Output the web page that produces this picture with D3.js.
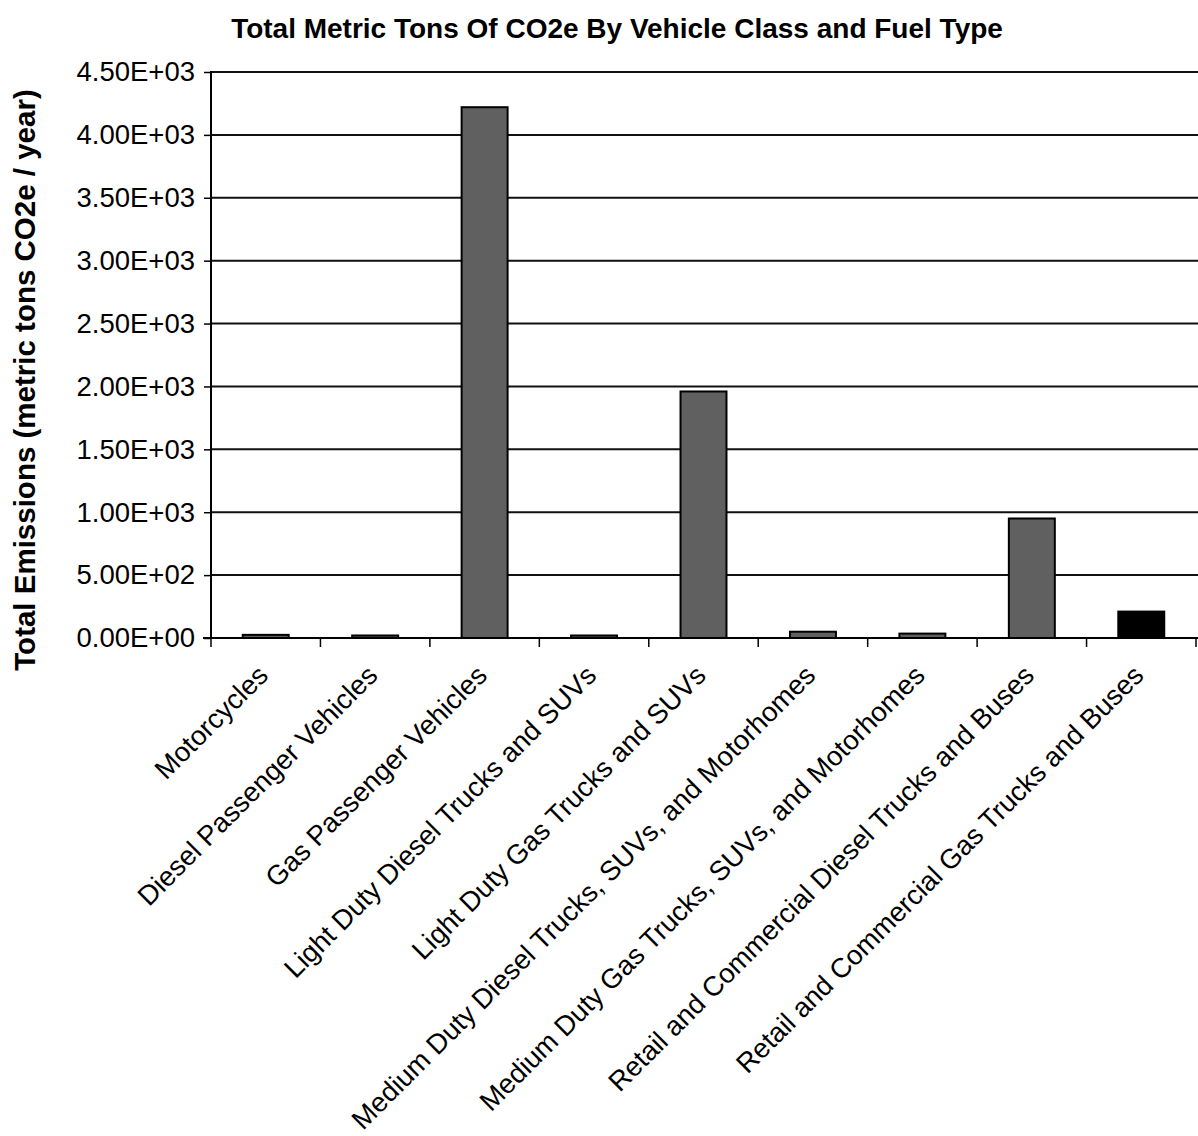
<!DOCTYPE html>
<html>
<head>
<meta charset="utf-8">
<script src="https://cdn.jsdelivr.net/npm/d3@7"></script>
<style>
  html, body { margin: 0; padding: 0; background: #fff; }
  svg { display: block; }
  text { font-family: "Liberation Sans", Arial, sans-serif; fill: #000; }
</style>
</head>
<body>
<svg id="chart" width="1198" height="1136"></svg>
<script>
// Vehicle classes along the x axis
const categories = [
  "Motorcycles",
  "Diesel Passenger Vehicles",
  "Gas Passenger Vehicles",
  "Light Duty Diesel Trucks and SUVs",
  "Light Duty Gas Trucks and SUVs",
  "Medium Duty Diesel Trucks, SUVs, and Motorhomes",
  "Medium Duty Gas Trucks, SUVs, and Motorhomes",
  "Retail and Commercial Diesel Trucks and Buses",
  "Retail and Commercial Gas Trucks and Buses"
];

// Total emissions, metric tons CO2e per year
const emissions = [25, 20, 4220, 20, 1960, 50, 35, 950, 210];

// Bar fill per class (last class drawn in black)
const barFills = ["#606060", "#606060", "#606060", "#606060", "#606060",
                  "#606060", "#606060", "#606060", "#000000"];

// Y axis tick values and their labels
const yTicks = [0, 500, 1000, 1500, 2000, 2500, 3000, 3500, 4000, 4500];
const yTickLabels = ["0.00E+00", "5.00E+02", "1.00E+03", "1.50E+03", "2.00E+03",
                     "2.50E+03", "3.00E+03", "3.50E+03", "4.00E+03", "4.50E+03"];

const chartTitle = "Total Metric Tons Of CO2e By Vehicle Class and Fuel Type";
const yTitle = "Total Emissions (metric tons CO2e / year)";

const svg = d3.select("#chart");
const plot = { left: 211, right: 1196, top: 72, bottom: 638 };

const x = d3.scaleBand()
  .domain(categories)
  .range([plot.left, plot.right])
  .paddingInner(0.58)
  .paddingOuter(0.29);

const y = d3.scaleLinear()
  .domain([0, 4500])
  .range([plot.bottom, plot.top]);

// Horizontal gridlines
svg.append("g")
  .selectAll("line")
  .data(yTicks.filter(d => d > 0))
  .join("line")
  .attr("x1", plot.left)
  .attr("x2", 1198)
  .attr("y1", d => y(d))
  .attr("y2", d => y(d))
  .attr("stroke", "#111")
  .attr("stroke-width", 2);

// Bars
svg.append("g")
  .selectAll("rect")
  .data(categories)
  .join("rect")
  .attr("x", d => x(d))
  .attr("width", x.bandwidth())
  .attr("y", (d, i) => y(emissions[i]))
  .attr("height", (d, i) => y(0) - y(emissions[i]))
  .attr("fill", (d, i) => barFills[i])
  .attr("stroke", "#000")
  .attr("stroke-width", 2);

// Y axis
const yAxis = d3.axisLeft(y)
  .tickValues(yTicks)
  .tickFormat((d, i) => yTickLabels[i])
  .tickSize(7)
  .tickPadding(9);

const yg = svg.append("g")
  .attr("transform", `translate(${plot.left},0)`)
  .call(yAxis);
yg.select(".domain").attr("stroke", "#000").attr("stroke-width", 2)
  .attr("d", `M0,${plot.bottom}V${plot.top - 1}`);
yg.selectAll(".tick line").attr("stroke", "#000").attr("stroke-width", 1.5);
yg.selectAll(".tick text")
  .style("font-family", "'Liberation Sans', Arial, sans-serif")
  .style("font-size", "27.5px")
  .attr("fill", "#000");

// X axis baseline with category boundary ticks
const step = x.step();
const xg = svg.append("g");
xg.append("line")
  .attr("x1", plot.left - 8)
  .attr("x2", 1198)
  .attr("y1", y(0))
  .attr("y2", y(0))
  .attr("stroke", "#000")
  .attr("stroke-width", 2);
xg.selectAll("line.tick")
  .data(d3.range(categories.length + 1))
  .join("line")
  .attr("class", "tick")
  .attr("x1", i => plot.left + i * step)
  .attr("x2", i => plot.left + i * step)
  .attr("y1", y(0))
  .attr("y2", y(0) + 9)
  .attr("stroke", "#000")
  .attr("stroke-width", 1.5);

// Rotated category labels
xg.selectAll("text")
  .data(categories)
  .join("text")
  .attr("text-anchor", "end")
  .attr("transform", d => `translate(${x(d) + x.bandwidth() / 2 + 4},${y(0) + 39}) rotate(-45)`)
  .style("font-size", "27.5px")
  .text(d => d);

// Chart title
svg.append("text")
  .attr("x", 617)
  .attr("y", 38)
  .attr("text-anchor", "middle")
  .style("font-size", "28px")
  .style("font-weight", "bold")
  .text(chartTitle);

// Y axis title
svg.append("text")
  .attr("transform", `translate(35,380) rotate(-90)`)
  .attr("text-anchor", "middle")
  .style("font-size", "29.5px")
  .style("font-weight", "bold")
  .text(yTitle);
</script>
</body>
</html>
